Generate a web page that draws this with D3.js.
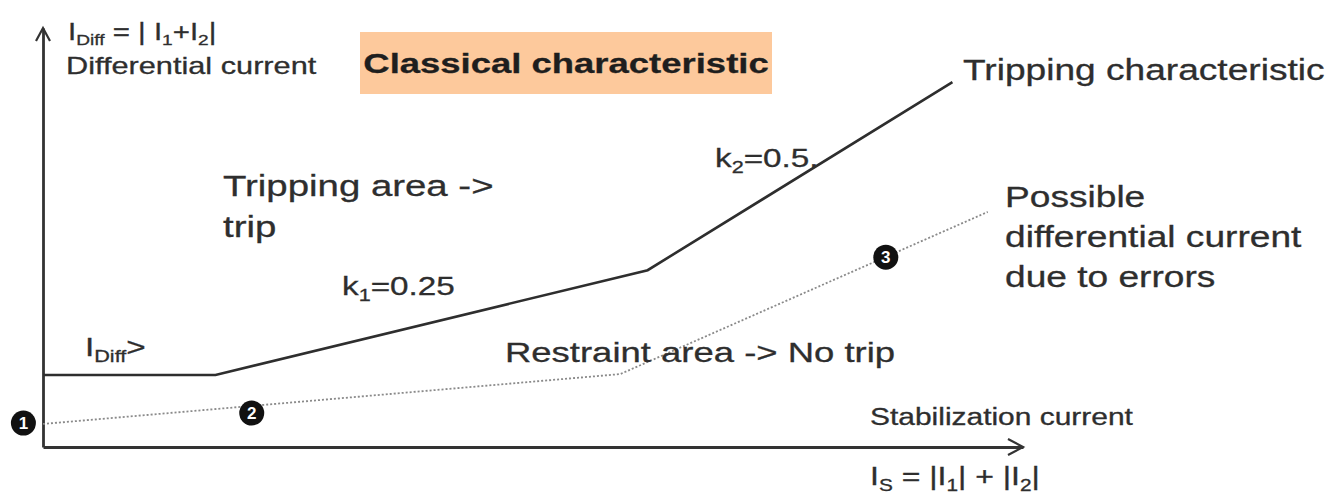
<!DOCTYPE html>
<html>
<head>
<meta charset="utf-8">
<script src="https://cdn.jsdelivr.net/npm/d3@7"></script>
<style>
  body { margin: 0; background: #fff; }
  svg { display: block; }
</style>
</head>
<body>
<div id="chart"></div>
<script>
// stabilization current (x) and differential current (y), arbitrary units
const tripIs = [0, 1.76, 6.17, 9.28];
const tripIdiff = [1.72, 1.72, 4.22, 8.71];

const errorIs = [0, 5.89, 9.64];
const errorIdiff = [0.55, 1.74, 5.61];

const markerIds = ['1', '2', '3'];
const markerIs = [-0.2, 2.13, 8.6];
const markerIdiff = [0.57, 0.81, 4.53];

const width = 1333;
const height = 497;
const SX = 1.28;           // source picture is stretched horizontally
const textColor = '#2e2e2e';

const x = d3.scaleLinear().domain([0, 10]).range([43, 1023]);
const y = d3.scaleLinear().domain([0, 10]).range([447, 28]);

const svg = d3.select('#chart').append('svg')
  .attr('width', width)
  .attr('height', height)
  .style('font-family', '"Liberation Sans", Arial, sans-serif');

// text with optional subscripts; parts = [[text, isSub], ...]
function label(px, py, parts, size, weight, anchor) {
  const t = svg.append('text')
    .attr('transform', `translate(${px},${py}) scale(${SX},1)`)
    .attr('font-size', size)
    .attr('font-weight', weight || 'normal')
    .attr('text-anchor', anchor || 'start')
    .attr('fill', textColor)
    .attr('stroke', textColor)
    .attr('stroke-width', 0.3);
  let shifted = false;
  parts.forEach(([txt, sub]) => {
    const s = t.append('tspan').text(txt);
    if (sub && !shifted) { s.attr('dy', size * 0.22); shifted = true; }
    if (!sub && shifted) { s.attr('dy', -size * 0.22); shifted = false; }
    if (sub) s.attr('font-size', size * 0.65);
  });
  return t;
}

// title box
svg.append('rect')
  .attr('x', 360).attr('y', 32)
  .attr('width', 412).attr('height', 62)
  .attr('fill', '#fdc99c');
label(566, 73, [['Classical characteristic', 0]], 28.5, 'bold', 'middle')
  .attr('fill', '#1e1e1e').attr('stroke', '#1e1e1e');

// axes (no ticks) with open arrow heads
const xAxis = svg.append('g')
  .attr('transform', `translate(0,${y(0)})`)
  .call(d3.axisBottom(x).ticks(0).tickSizeOuter(0));
const yAxis = svg.append('g')
  .attr('transform', `translate(${x(0)},0)`)
  .call(d3.axisLeft(y).ticks(0).tickSizeOuter(0));
[xAxis, yAxis].forEach(g => g.select('.domain')
  .attr('stroke', '#333').attr('stroke-width', 2.8));

svg.append('path')
  .attr('d', `M${x(10) - 15},${y(0) - 8} L${x(10)},${y(0)} L${x(10) - 15},${y(0) + 8}`)
  .attr('fill', 'none').attr('stroke', '#333').attr('stroke-width', 2.2);
svg.append('path')
  .attr('d', `M${x(0) - 7},${y(10) + 13} L${x(0)},${y(10)} L${x(0) + 7},${y(10) + 13}`)
  .attr('fill', 'none').attr('stroke', '#333').attr('stroke-width', 2.2);

// lines
const line = d3.line().x(d => x(d[0])).y(d => y(d[1]));

svg.append('path')
  .datum(errorIs.map((v, i) => [v, errorIdiff[i]]))
  .attr('d', line)
  .attr('fill', 'none')
  .attr('stroke', '#8a8a8a')
  .attr('stroke-width', 1.8)
  .attr('stroke-dasharray', '2,2');

svg.append('path')
  .datum(tripIs.map((v, i) => [v, tripIdiff[i]]))
  .attr('d', line)
  .attr('fill', 'none')
  .attr('stroke', '#2e2e2e')
  .attr('stroke-width', 2.6);

// numbered markers
const markers = svg.selectAll('.marker')
  .data(markerIds.map((id, i) => ({ id, is: markerIs[i], idiff: markerIdiff[i] })))
  .enter().append('g')
  .attr('class', 'marker')
  .attr('transform', d => `translate(${x(d.is)},${y(d.idiff)})`);
markers.append('circle').attr('r', 12.5).attr('fill', '#111');
markers.append('text')
  .text(d => d.id)
  .attr('text-anchor', 'middle')
  .attr('dy', '0.36em')
  .attr('font-size', 17)
  .attr('font-weight', 'bold')
  .attr('fill', '#fff');

// axis labels
label(68, 40, [['I', 0], ['Diff', 1], [' = | I', 0], ['1', 1], ['+I', 0], ['2', 1], ['|', 0]], 23);
label(66, 74, [['Differential current', 0]], 24);
label(870, 425, [['Stabilization current', 0]], 23.4);
label(870, 485, [['I', 0], ['S', 1], [' = |I', 0], ['1', 1], ['| + |I', 0], ['2', 1], ['|', 0]], 25);

// annotations
label(85, 356, [['I', 0], ['Diff', 1], ['>', 0]], 26);
label(342, 295, [['k', 0], ['1', 1], ['=0.25', 0]], 26);
label(715, 167, [['k', 0], ['2', 1], ['=0.5.', 0]], 26);
label(223, 196, [['Tripping area ->', 0]], 30);
label(223, 237, [['trip', 0]], 30);
label(505, 362, [['Restraint area -> No trip', 0]], 28.5);
label(963, 80, [['Tripping characteristic', 0]], 29);
label(1005, 207, [['Possible', 0]], 29);
label(1005, 247, [['differential current', 0]], 29);
label(1005, 287, [['due to errors', 0]], 29);
</script>
</body>
</html>
